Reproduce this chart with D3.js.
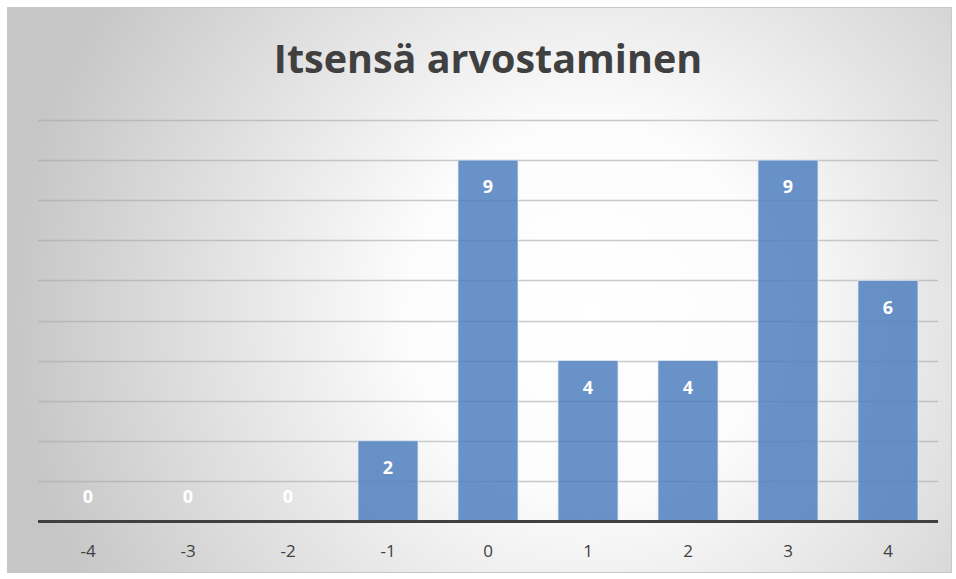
<!DOCTYPE html>
<html><head><meta charset="utf-8">
<script src="https://cdn.jsdelivr.net/npm/d3@7"></script>
<style>html,body{margin:0;padding:0;background:#fff;}svg{display:block;}</style>
</head><body>
<script>
const categories = ["-4","-3","-2","-1","0","1","2","3","4"];
const values = [0,0,0,2,9,4,4,9,6];
const yTicks = [0,1,2,3,4,5,6,7,8,9,10];
const title = "Itsensä arvostaminen";

const W = 956, H = 579;
const FONT = "'Open Sans', sans-serif";
const svg = d3.select("body").append("svg").attr("width", W).attr("height", H);
const defs = svg.append("defs");
const rg = defs.append("radialGradient").attr("id","bg")
  .attr("gradientUnits","userSpaceOnUse").attr("cx",590).attr("cy",310).attr("r",580);
rg.append("stop").attr("offset","0%").attr("stop-color","#ffffff");
rg.append("stop").attr("offset","32%").attr("stop-color","#fcfcfc");
rg.append("stop").attr("offset","100%").attr("stop-color","#c6c6c6");

svg.append("rect").attr("x",7.5).attr("y",7.5).attr("width",944).attr("height",565)
  .attr("fill","url(#bg)").attr("stroke","#c8c8c8").attr("stroke-width",1);

const x = d3.scaleBand().domain(categories).range([38,938]).paddingInner(0.4).paddingOuter(0.2);
const y = d3.scaleLinear().domain([0,10]).range([521,120]);

// gridlines
svg.append("g").selectAll("line").data(yTicks.filter(d=>d>0)).join("line")
  .attr("x1",38).attr("x2",938).attr("y1",d=>Math.round(y(d))+0.5).attr("y2",d=>Math.round(y(d))+0.5)
  .attr("stroke","#a8a8a8").attr("stroke-opacity",0.6).attr("stroke-width",1.3);

// bars
svg.append("g").selectAll("rect").data(values.map((v,i)=>({c:categories[i],v}))).join("rect")
  .attr("x",d=>x(d.c)).attr("width",x.bandwidth())
  .attr("y",d=>y(d.v)).attr("height",d=>y(0)-y(d.v))
  .attr("fill","#4f7fbf").attr("fill-opacity",0.85)
  .attr("stroke","#dfe8f3").attr("stroke-width",1).attr("stroke-opacity",0.8);

// axis line
svg.append("line").attr("x1",38).attr("x2",938).attr("y1",521.5).attr("y2",521.5)
  .attr("stroke","#404040").attr("stroke-width",3);

// x tick labels via axis
const xa = svg.append("g").attr("transform","translate(0,521)")
  .call(d3.axisBottom(x).tickSize(0).tickPadding(24));
xa.select(".domain").remove();
xa.selectAll("text").attr("font-family",FONT).attr("font-size",17)
  .attr("fill","#404040");

// value labels
svg.append("g").selectAll("text").data(values.map((v,i)=>({c:categories[i],v}))).join("text")
  .attr("x",d=>x(d.c)+x.bandwidth()/2)
  .attr("y",d=>d.v===0 ? y(0)-24 : y(d.v)+27)
  .attr("dy","0.35em").attr("text-anchor","middle")
  .attr("font-family",FONT).attr("font-weight","bold").attr("font-size",18)
  .attr("fill","#ffffff").text(d=>d.v);

// title
svg.append("text").attr("x",488).attr("y",73).attr("text-anchor","middle")
  .attr("font-family",FONT).attr("font-weight","bold").attr("font-size",39.5)
  .attr("fill","#404040").text(title);
</script>
</body></html>
